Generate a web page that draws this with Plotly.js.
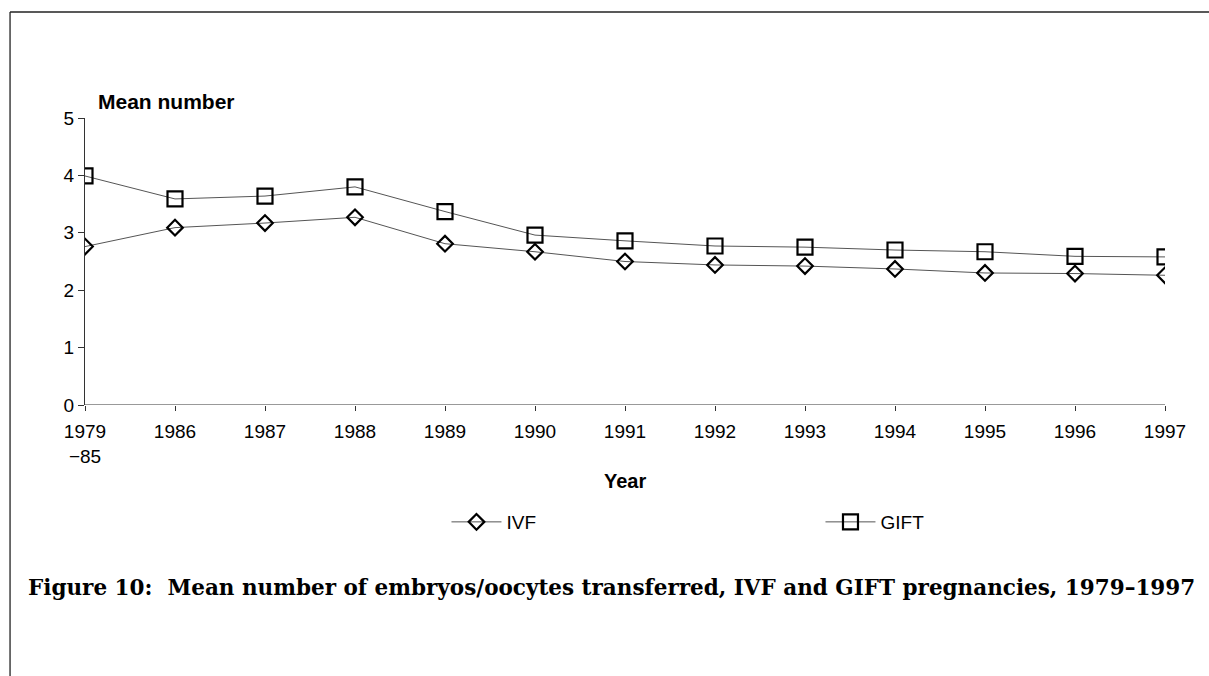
<!DOCTYPE html>
<html>
<head>
<meta charset="utf-8">
<script src="https://cdn.plot.ly/plotly-3.0.1.min.js"></script>
<style>
html,body{margin:0;padding:0;background:#fff;}
#chart{width:1209px;height:676px;}
</style>
</head>
<body>
<div id="chart"></div>
<script>
var categories = ["1979<br>\u221285","1986","1987","1988","1989","1990","1991","1992","1993","1994","1995","1996","1997"];
var ivfValues  = [2.76,3.09,3.17,3.27,2.81,2.67,2.50,2.44,2.42,2.37,2.30,2.29,2.26];
var giftValues = [3.99,3.59,3.64,3.80,3.37,2.96,2.86,2.77,2.75,2.70,2.67,2.59,2.58];
var yTicks = [0,1,2,3,4,5];

var fontSans = "Liberation Sans, Arial, sans-serif";

var traces = [
  {
    x: categories, y: ivfValues, name: "IVF", type: "scatter", mode: "lines+markers",
    legend: "legend",
    line: {color: "#555", width: 1},
    marker: {symbol: "diamond-open", size: 12, color: "#000", line: {width: 2.2, color: "#000"}}
  },
  {
    x: categories, y: giftValues, name: "GIFT", type: "scatter", mode: "lines+markers",
    legend: "legend2",
    line: {color: "#555", width: 1},
    marker: {symbol: "square-open", size: 15, color: "#000", line: {width: 2.2, color: "#000"}}
  }
];

var legendBase = {
  orientation: "h", xanchor: "left", yanchor: "middle", y: -0.4077,
  itemwidth: 50, font: {family: fontSans, size: 19, color: "#000"},
  bgcolor: "rgba(0,0,0,0)"
};

var layout = {
  width: 1209, height: 676,
  margin: {l: 85, r: 44, t: 118, b: 271, autoexpand: false},
  paper_bgcolor: "#fff", plot_bgcolor: "#fff",
  font: {family: fontSans, size: 19, color: "#000"},
  showlegend: true,
  legend: Object.assign({}, legendBase, {x: 0.3347}),
  legend2: Object.assign({}, legendBase, {x: 0.681}),
  xaxis: {
    type: "category", range: [0, 12], showgrid: false, zeroline: false,
    showline: false, ticks: "outside", ticklen: 5, tickcolor: "#333", tickwidth: 1,
    ticklabelstandoff: 4,
    tickfont: {family: fontSans, size: 19, color: "#000"}
  },
  yaxis: {
    range: [0, 5], tickvals: yTicks, showgrid: false, zeroline: false,
    showline: true, linecolor: "#333", linewidth: 1, ticks: "outside", ticklen: 6,
    tickcolor: "#333", tickfont: {family: fontSans, size: 19, color: "#000"}
  },
  shapes: [
    {type: "line", xref: "paper", yref: "y", x0: 0, x1: 1, y0: 0, y1: 0, line: {color: "#333", width: 1}},
    {type: "line", xref: "paper", yref: "paper", x0: -0.0694, x1: 1.05, y0: 1.3693, y1: 1.3693, line: {color: "#222", width: 1.3}},
    {type: "line", xref: "paper", yref: "paper", x0: -0.0694, x1: -0.0694, y0: 1.3693, y1: -0.95, line: {color: "#222", width: 1.3}}
  ],
  annotations: [
    {text: "<b>Mean number</b>", xref: "paper", yref: "paper", x: 0.0102, y: 1.059,
     xanchor: "left", yanchor: "middle", showarrow: false,
     font: {family: fontSans, size: 21, color: "#000"}},
    {text: "<b>Year</b>", xref: "paper", yref: "paper", x: 0.5, y: -0.265,
     xanchor: "center", yanchor: "middle", showarrow: false,
     font: {family: fontSans, size: 20, color: "#000"}},
    {text: "<b>Figure 10:  Mean number of embryos/oocytes transferred, IVF and GIFT pregnancies, 1979\u20131997</b>",
     xref: "paper", yref: "paper", x: 1.0296, y: -0.6376, xanchor: "right", yanchor: "middle",
     showarrow: false, font: {family: "DejaVu Serif, serif", size: 21.5, color: "#000"}}
  ]
};

Plotly.newPlot("chart", traces, layout, {displayModeBar: false, staticPlot: true});
</script>
</body>
</html>
